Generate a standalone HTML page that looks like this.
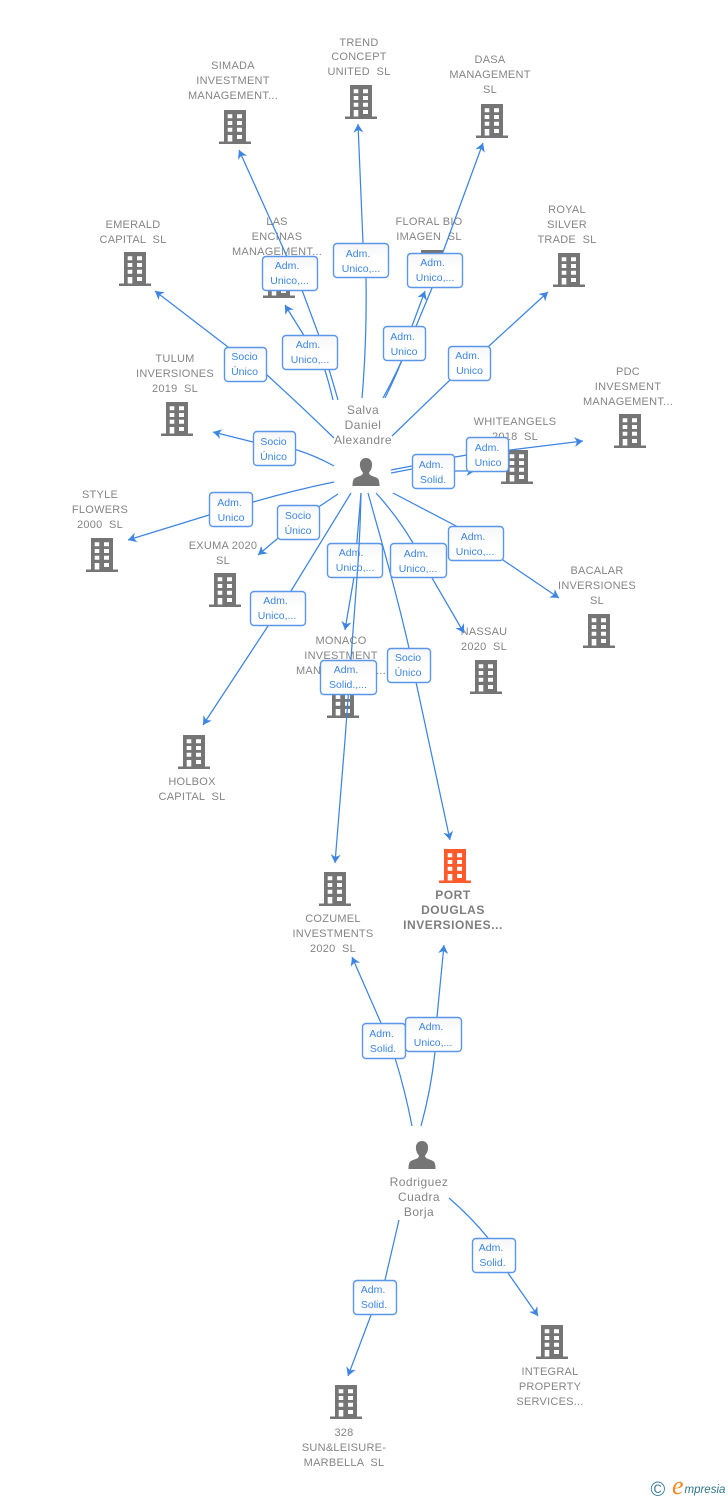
<!DOCTYPE html>
<html><head><meta charset="utf-8"><style>
html,body{margin:0;padding:0;background:#fff}
svg{display:block}
text{white-space:pre}
.l text{font:11px "Liberation Sans",sans-serif;fill:#858585;letter-spacing:.25px;text-anchor:middle}
.l text.b{font-weight:bold;font-size:12px;letter-spacing:.55px;fill:#7d7d7d}
.l text.n{font-size:12px;letter-spacing:.45px}
.p path{fill:none;stroke:#3d85e0;stroke-width:1.25;marker-end:url(#a)}
.e rect{fill:url(#g);stroke:#5a96ea;stroke-width:1.4}
.e text{font:10.5px "Liberation Sans",sans-serif;fill:#3d85e0;text-anchor:middle}
</style></head><body>
<svg width="728" height="1500" viewBox="0 0 728 1500" xmlns="http://www.w3.org/2000/svg">
<defs>
<linearGradient id="g" x1="0" y1="0" x2="0" y2="1"><stop offset="0" stop-color="#f5f6f8"/><stop offset=".5" stop-color="#fff"/></linearGradient>
<marker id="a" markerUnits="userSpaceOnUse" viewBox="-10 -6 11 12" refX="0" refY="0" markerWidth="11" markerHeight="12" orient="auto"><path d="M0,0L-8.5,-5L-6,0L-8.5,5Z" fill="#3d85e0" stroke="none"/></marker>
<symbol id="b" viewBox="0 0 32 34" width="32" height="34"><path fill-rule="evenodd" d="M5,0H27V31.5H32V34H0V31.5H5ZM8.7,4.3V8.3H13.3V4.3ZM18,4.3V8.3H23V4.3ZM8.7,11V15H13.3V11ZM18,11V15H23V11ZM8.7,17.7V21.7H13.3V17.7ZM18,17.7V21.7H23V17.7ZM8.7,25V31.5H13.3V25ZM18,25V29H23V25Z"/></symbol>
<symbol id="u" viewBox="0 0 27 28" width="27" height="28"><path d="M13.5,0C17.5,0 19.8,3.2 19.6,7C19.4,10.5 18,13 16.6,14.4C16.6,16 17,16.8 18.5,17.5C21,18.6 25,19.4 26,21.5C26.8,23.2 27,25.5 27,28H0C0,25.5 .2,23.2 1,21.5C2,19.4 6,18.6 8.5,17.5C10,16.8 10.4,16 10.4,14.4C9,13 7.6,10.5 7.4,7C7.2,3.2 9.5,0 13.5,0Z" fill="#757575"/></symbol>
</defs>

<g fill="#757575">
<use href="#b" x="219" y="110"/><use href="#b" x="345" y="85"/><use href="#b" x="476" y="104"/>
<use href="#b" x="119" y="252"/><use href="#b" x="263" y="264"/><use href="#b" x="416" y="250"/>
<use href="#b" x="553" y="253"/><use href="#b" x="614" y="414"/><use href="#b" x="501" y="450"/>
<use href="#b" x="161" y="402"/><use href="#b" x="86" y="538"/><use href="#b" x="209" y="573"/>
<use href="#b" x="327" y="684"/><use href="#b" x="470" y="660"/><use href="#b" x="583" y="614"/>
<use href="#b" x="178" y="735"/><use href="#b" x="319" y="872"/>
<use href="#b" x="330" y="1385"/><use href="#b" x="536" y="1325"/>
</g>
<use href="#b" x="439" y="849" fill="#ff5a2b"/>
<use href="#u" x="352.500" y="458"/><use href="#u" x="408.500" y="1141"/>

<g class="l">
<text x="233" y="69">SIMADA</text><text x="233" y="84">INVESTMENT</text><text x="233" y="99">MANAGEMENT...</text>
<text x="359" y="46">TREND</text><text x="359" y="60">CONCEPT</text><text x="359" y="75">UNITED  SL</text>
<text x="490" y="63">DASA</text><text x="490" y="78">MANAGEMENT</text><text x="490" y="93">SL</text>
<text x="133" y="228">EMERALD</text><text x="133" y="243">CAPITAL  SL</text>
<text x="277" y="225">LAS</text><text x="277" y="240">ENCINAS</text><text x="277" y="255">MANAGEMENT...</text>
<text x="429" y="225">FLORAL BIO</text><text x="429" y="240">IMAGEN  SL</text>
<text x="567" y="213">ROYAL</text><text x="567" y="228">SILVER</text><text x="567" y="243">TRADE  SL</text>
<text x="628" y="375">PDC</text><text x="628" y="390">INVESMENT</text><text x="628" y="405">MANAGEMENT...</text>
<text x="515" y="425">WHITEANGELS</text><text x="515" y="440">2018  SL</text>
<text x="175" y="362">TULUM</text><text x="175" y="377">INVERSIONES</text><text x="175" y="392">2019  SL</text>
<text x="100" y="498">STYLE</text><text x="100" y="513">FLOWERS</text><text x="100" y="528">2000  SL</text>
<text x="223" y="549">EXUMA 2020</text><text x="223" y="564">SL</text>
<text x="341" y="644">MONACO</text><text x="341" y="659">INVESTMENT</text><text x="341" y="674">MANAGEMENT...</text>
<text x="484" y="635">NASSAU</text><text x="484" y="650">2020  SL</text>
<text x="597" y="574">BACALAR</text><text x="597" y="589">INVERSIONES</text><text x="597" y="604">SL</text>
<text x="192" y="785">HOLBOX</text><text x="192" y="800">CAPITAL  SL</text>
<text x="333" y="922">COZUMEL</text><text x="333" y="937">INVESTMENTS</text><text x="333" y="952">2020  SL</text>
<text class="b" x="453" y="899">PORT</text><text class="b" x="453" y="914">DOUGLAS</text><text class="b" x="453" y="929">INVERSIONES...</text>
<text x="344" y="1436">328</text><text x="344" y="1451">SUN&amp;LEISURE-</text><text x="344" y="1466">MARBELLA  SL</text>
<text x="550" y="1375">INTEGRAL</text><text x="550" y="1390">PROPERTY</text><text x="550" y="1405">SERVICES...</text>
<text class="n" x="363" y="414">Salva</text><text class="n" x="363" y="429">Daniel</text><text class="n" x="363" y="444">Alexandre</text>
<text class="n" x="419" y="1186">Rodriguez</text><text class="n" x="419" y="1201">Cuadra</text><text class="n" x="419" y="1216">Borja</text>
</g>

<g class="p">
<path d="M338,400Q328,365 318,333L302,290L239,150"/>
<path d="M333,400Q327,375 324,368L303,334L285,305"/>
<path d="M362,398Q367,340 366,278L363,243L358,124"/>
<path d="M385,398Q395,378 402,360L432,288L443,252L483,143"/>
<path d="M383,398Q394,378 402,360L412,326L425,291"/>
<path d="M392,436L450,380L489,346L548,292"/>
<path d="M334,438Q300,405 267,375L228,347L155,291"/>
<path d="M334,466Q316,456 297,450L253,442L213,432"/>
<path d="M334,482Q295,490 253,502L209,515L128,540"/>
<path d="M338,494L320,506L277,539L258,555"/>
<path d="M351,493L291,591L268,626L203,725"/>
<path d="M361,493L354,577L345,630"/>
</g>
<g class="e"><rect x="327.500" y="543.500" width="55" height="34" rx="3.500"/><text x="351" y="556">Adm.</text><text x="355" y="571">Unico,...</text></g>
<g class="p">
<path d="M361,493Q360,540 357,577L345,740L335,863"/>
<path d="M368,493Q375,518 382,543Q398,600 409,648L416,682L450,840"/>
<path d="M376,493Q397,516 413,543L432,578L464,633"/>
<path d="M393,493L458,527L503,560L559,598"/>
<path d="M391,470L412,466L455,457L467,455L510,450L583,441"/>
<path d="M391,473L412,469L455,471L475,471"/>
<path d="M412,1126Q405,1090 395,1058L381,1023L352,957"/>
<path d="M421,1126Q431,1090 435,1052L437,1017L444,945"/>
<path d="M399,1220Q392,1250 385,1280L371,1315L348,1376"/>
<path d="M449,1198Q472,1218 488,1238L508,1273L538,1316"/>
</g>
<g class="e">
<g><rect x="262.500" y="256.500" width="55" height="34" rx="3.500"/><text x="287" y="269">Adm.</text><text x="289.500" y="284">Unico,...</text></g>
<g><rect x="333.500" y="243.500" width="55" height="34" rx="3.500"/><text x="358" y="257">Adm.</text><text x="361" y="272">Unico,...</text></g>
<g><rect x="407.500" y="253.500" width="55" height="34" rx="3.500"/><text x="432.500" y="266">Adm.</text><text x="435" y="281">Unico,...</text></g>
<g><rect x="282.500" y="335.500" width="55" height="34" rx="3.500"/><text x="308" y="348">Adm.</text><text x="310" y="363">Unico,...</text></g>
<g><rect x="383.500" y="326.500" width="42" height="34" rx="3.500"/><text x="402.500" y="340">Adm.</text><text x="404" y="355">Unico</text></g>
<g><rect x="448.500" y="346.500" width="42" height="34" rx="3.500"/><text x="467.500" y="359">Adm.</text><text x="469.500" y="374">Unico</text></g>
<g><rect x="224.500" y="347.500" width="42" height="34" rx="3.500"/><text x="244.500" y="360">Socio</text><text x="244.500" y="375">Único</text></g>
<g><rect x="253.500" y="431.500" width="42" height="34" rx="3.500"/><text x="273.500" y="445">Socio</text><text x="273.500" y="460">Único</text></g>
<g><rect x="412.500" y="454.500" width="42" height="34" rx="3.500"/><text x="431" y="468">Adm.</text><text x="433" y="483">Solid.</text></g>
<g><rect x="466.500" y="437.500" width="42" height="34" rx="3.500"/><text x="487" y="451">Adm.</text><text x="488" y="466">Unico</text></g>
<g><rect x="209.500" y="492.500" width="43" height="34" rx="3.500"/><text x="229.500" y="506">Adm.</text><text x="231" y="521">Unico</text></g>
<g><rect x="277.500" y="505.500" width="42" height="34" rx="3.500"/><text x="298" y="519">Socio</text><text x="298" y="534">Único</text></g>
<g><rect x="390.500" y="543.500" width="56" height="34" rx="3.500"/><text x="416" y="557">Adm.</text><text x="418" y="572">Unico,...</text></g>
<g><rect x="448.500" y="526.500" width="55" height="34" rx="3.500"/><text x="473" y="540">Adm.</text><text x="475" y="555">Unico,...</text></g>
<g><rect x="250.500" y="591.500" width="55" height="34" rx="3.500"/><text x="275.500" y="604">Adm.</text><text x="277" y="619">Unico,...</text></g>
<g><rect x="320.500" y="660.500" width="56" height="34" rx="3.500"/><text x="346" y="673">Adm.</text><text x="348" y="688">Solid.,...</text></g>
<g><rect x="387.500" y="648.500" width="43" height="34" rx="3.500"/><text x="408" y="661">Socio</text><text x="408" y="676">Único</text></g>
<g><rect x="362.500" y="1023.500" width="43" height="35" rx="3.500"/><text x="381.500" y="1037">Adm.</text><text x="383" y="1052">Solid.</text></g>
<g><rect x="405.500" y="1017.500" width="56" height="34" rx="3.500"/><text x="431" y="1030">Adm.</text><text x="433" y="1046">Unico,...</text></g>
<g><rect x="472.500" y="1238.500" width="43" height="34" rx="3.500"/><text x="491" y="1251">Adm.</text><text x="492.500" y="1266">Solid.</text></g>
<g><rect x="353.500" y="1280.500" width="43" height="34" rx="3.500"/><text x="373" y="1293">Adm.</text><text x="374" y="1308">Solid.</text></g>
</g>

<text x="650.500" y="1496" style="font:20px 'Liberation Sans',sans-serif;fill:#3f7f9a">©</text>
<text x="672" y="1494" style="font:italic 26px 'Liberation Serif',serif;fill:#f08a24">e</text>
<text x="684.500" y="1493" style="font:italic 11.500px 'Liberation Sans',sans-serif;fill:#2f7488">mpresia</text>
</svg>
</body></html>
